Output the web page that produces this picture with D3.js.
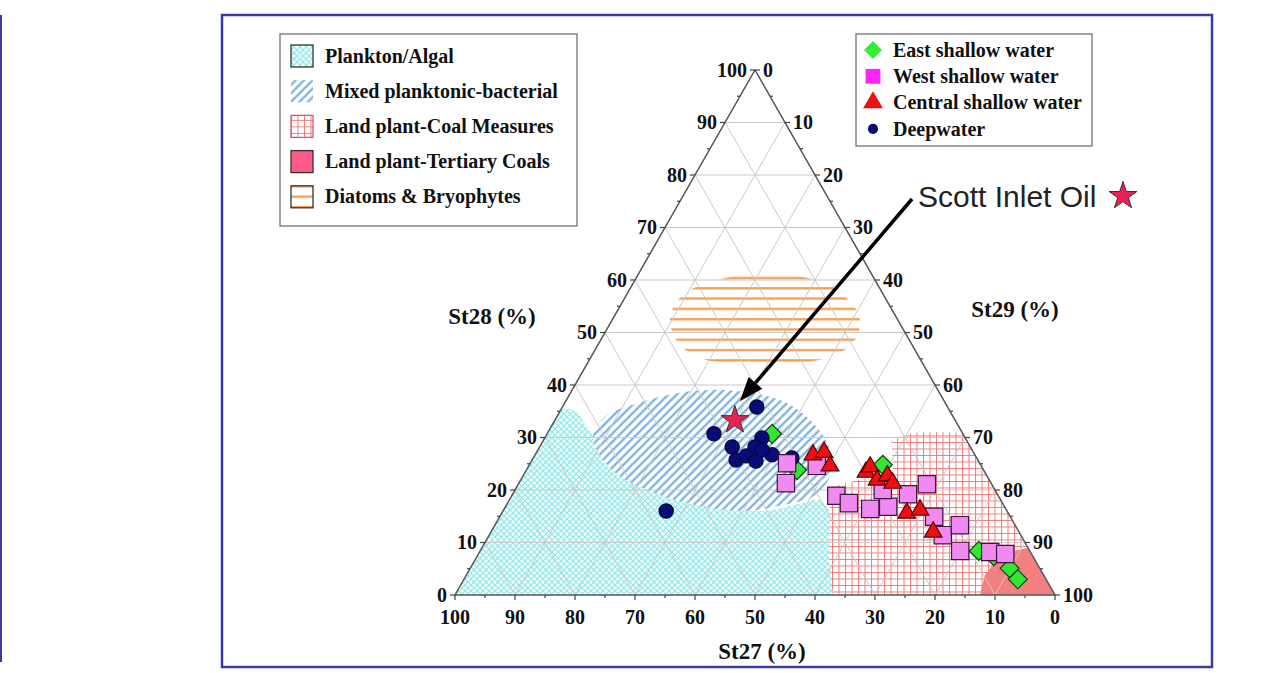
<!DOCTYPE html>
<html>
<head>
<meta charset="utf-8">
<script src="https://cdn.jsdelivr.net/npm/d3@7"></script>
<style>
  body { margin: 0; background: #fff; }
  svg { display: block; }
</style>
</head>
<body>
<svg id="chart" width="1269" height="673"></svg>
<script>

// sterane samples, each row is [St27, St28, St29] in %
var eastShallow = [[31.8,30.7,37.5],[31.1,23.8,45.1],[16.3,24.8,58.9],[8.5,8.4,83.1],
  [6.5,7.4,86.1],[5.0,5.1,89.9],[4.7,3.0,92.3]];

var deepWater = [[31.8,35.8,32.4],[41.5,30.7,27.8],[39.7,28.2,32.1],[33.9,29.9,36.2],
  [35.9,28.2,35.9],[40.3,25.7,34.0],[38.2,26.5,35.3],[37.1,25.5,37.4],[33.8,26.7,39.5],
  [30.8,26.1,43.1],[56.8,16.0,27.2],[35.0,27.6,37.4]];

var westShallow = [[32.1,25.1,42.8],[34.2,21.3,44.5],[27.4,24.6,48.0],[27.0,18.9,54.1],
  [25.6,17.5,56.9],[22.6,16.4,61.0],[19.4,16.8,63.8],[14.9,19.2,65.9],[10.8,21.1,68.1],
  [18.7,20.0,61.3],[12.7,14.9,72.4],[13.0,11.4,75.6],[9.2,13.3,77.5],[11.6,8.4,80.0],
  [6.7,8.2,85.1],[4.4,7.8,87.8]];

var centralShallow = [[27.0,26.7,46.3],[24.9,27.2,47.9],[25.2,24.6,50.2],[19.8,23.4,56.8],
  [18.6,24.4,57.0],[18.7,21.9,59.4],[16.6,22.7,60.7],[16.4,21.3,62.3],[16.9,15.6,67.5],
  [14.4,16.2,69.4],[14.3,12.0,73.7]];

var scottInlet = [36.7,33.3,30.0];

// source fields, outlines as [St28, St29]
var planktonField = [[0,0],[35.2,0],[35,2.5],[32,6],[28.5,10],[18,32],[16,43],[17.5,49],
  [18,52],[14,56],[6.7,60.5],[0,64]];
var mixedField = [[30,8],[34,8],[36,11],[38.5,18],[39,26],[37,36],[33,43],[28.5,48],
  [24,51],[19,50.5],[17,45.5],[16,40.5],[17,32],[20,22],[24,14]];
var coalField = [[20.5,52],[23,59.5],[24,61],[29.5,58],[31,61],[31,69],[0,100],[0,63],
  [6.7,59],[14.3,55.4]];
var tertiaryField = [[0,87.5],[3.8,86.4],[6.3,86.9],[8.2,88.4],[9,91],[0,100]];
var diatomField = [[61,18],[61,25],[59,33],[55,39],[52.4,41.3],[48.6,42.4],[45.7,40.5],
  [44.2,35.4],[44.2,25.4],[44.8,19.3],[47.6,13.7],[52.4,9.6],[56.2,9.1],[59,11.3]];

var fieldLabels = ['Plankton/Algal','Mixed planktonic-bacterial','Land plant-Coal Measures',
  'Land plant-Tertiary Coals','Diatoms & Bryophytes'];
var sampleLabels = ['East shallow water','West shallow water','Central shallow water','Deepwater'];
var majorTicks = d3.range(0, 101, 10);
var minorTicks = d3.range(5, 100, 10);

var serif = '"Liberation Serif", "Times New Roman", serif';
var svg = d3.select('#chart');
var defs = svg.append('defs');

// ternary layout: horizontal position is St29 + St28/2, vertical is St28
var xPos = d3.scaleLinear().domain([0, 100]).range([455, 1055]);
var yPos = d3.scaleLinear().domain([0, 100]).range([595, 70]);

function project(st28, st29){
  return [xPos(st29 + st28 / 2), yPos(st28)];
}
function projectSample(d){
  var s = d[0] + d[1] + d[2];
  return project(d[1] / s * 100, d[2] / s * 100);
}

// outer frame
svg.append('rect')
  .attr('x', 222).attr('y', 15).attr('width', 990).attr('height', 652)
  .attr('fill', '#fff').attr('stroke', '#3a3aa2').attr('stroke-width', 2.5);
svg.append('line')
  .attr('x1', 1).attr('x2', 1).attr('y1', 15).attr('y2', 662)
  .attr('stroke', '#3a3aa2').attr('stroke-width', 2);

// fill patterns
var pCyan = defs.append('pattern').attr('id', 'pCyan')
  .attr('patternUnits', 'userSpaceOnUse').attr('width', 6).attr('height', 6);
pCyan.append('rect').attr('width', 6).attr('height', 6).attr('fill', '#effcfc');
pCyan.append('path').attr('d', 'M0,0L6,6M6,0L0,6')
  .attr('stroke', '#8fe8e8').attr('stroke-width', 1.1);

var pBlue = defs.append('pattern').attr('id', 'pBlue')
  .attr('patternUnits', 'userSpaceOnUse').attr('width', 6).attr('height', 6)
  .attr('patternTransform', 'rotate(45)');
pBlue.append('rect').attr('width', 6).attr('height', 6).attr('fill', '#fff');
pBlue.append('line').attr('x1', 1.5).attr('x2', 1.5).attr('y1', 0).attr('y2', 6)
  .attr('stroke', '#6aa6dc').attr('stroke-width', 2);

var pGrid = defs.append('pattern').attr('id', 'pGrid')
  .attr('patternUnits', 'userSpaceOnUse').attr('width', 6.5).attr('height', 6.5);
pGrid.append('rect').attr('width', 6.5).attr('height', 6.5).attr('fill', '#fff');
pGrid.append('path').attr('d', 'M0,0.5H6.5M0.5,0V6.5')
  .attr('stroke', '#f07c7c').attr('stroke-width', 1);

var pOrange = defs.append('pattern').attr('id', 'pOrange')
  .attr('patternUnits', 'userSpaceOnUse').attr('width', 20).attr('height', 10.3)
  .attr('y', 273);
pOrange.append('line').attr('x1', 0).attr('x2', 20).attr('y1', 5).attr('y2', 5)
  .attr('stroke', '#f39d50').attr('stroke-width', 2.3);

// keep fields inside the triangle
var corners = [project(0, 0), project(0, 100), project(100, 0)];
defs.append('clipPath').attr('id', 'triClip')
  .append('polygon').attr('points', corners.map(function(p){ return p.join(','); }).join(' '));

var fieldLayer = svg.append('g').attr('clip-path', 'url(#triClip)');

function fieldPath(curve){
  return d3.line()
    .x(function(d){ return project(d[0], d[1])[0]; })
    .y(function(d){ return project(d[0], d[1])[1]; })
    .curve(curve);
}

fieldLayer.append('path').attr('d', fieldPath(d3.curveCatmullRomClosed)(planktonField))
  .attr('fill', 'url(#pCyan)');
fieldLayer.append('path').attr('d', fieldPath(d3.curveLinearClosed)(coalField))
  .attr('fill', 'url(#pGrid)');
fieldLayer.append('path').attr('d', fieldPath(d3.curveCatmullRomClosed)(mixedField))
  .attr('fill', 'url(#pBlue)');
fieldLayer.append('path').attr('d', fieldPath(d3.curveLinearClosed)(tertiaryField))
  .attr('fill', '#f38080');
fieldLayer.append('path').attr('d', fieldPath(d3.curveCatmullRomClosed)(diatomField))
  .attr('fill', 'url(#pOrange)');

// grid lines, one family per component
var grid = svg.append('g').attr('stroke', '#c9c9c9').attr('stroke-width', 1);
d3.range(10, 100, 10).forEach(function(v){
  var segs = [
    [project(v, 0), project(v, 100 - v)],
    [project(0, v), project(100 - v, v)],
    [project(0, 100 - v), project(100 - v, 0)]
  ];
  segs.forEach(function(s){
    grid.append('line')
      .attr('x1', s[0][0]).attr('y1', s[0][1])
      .attr('x2', s[1][0]).attr('y2', s[1][1]);
  });
});

// triangle outline
svg.append('polygon')
  .attr('points', corners.map(function(p){ return p.join(','); }).join(' '))
  .attr('fill', 'none').attr('stroke', '#555').attr('stroke-width', 1.5);

// ticks and labels
var axes = svg.append('g').attr('stroke', '#444').attr('stroke-width', 1.2);
var tickText = svg.append('g')
  .style('font-family', serif).style('font-weight', 'bold').style('font-size', '20px')
  .attr('fill', '#111');

majorTicks.concat(minorTicks).forEach(function(t){
  var len = (t % 10 === 0) ? 5 : 3;
  var pl = project(t, 0);            // St28 on the left edge
  var pr = project(100 - t, t);      // St29 on the right edge
  var pb = project(0, 100 - t);      // St27 along the base
  axes.append('line').attr('x1', pl[0]).attr('y1', pl[1]).attr('x2', pl[0] - len).attr('y2', pl[1]);
  axes.append('line').attr('x1', pr[0]).attr('y1', pr[1]).attr('x2', pr[0] + len).attr('y2', pr[1]);
  axes.append('line').attr('x1', pb[0]).attr('y1', pb[1]).attr('x2', pb[0]).attr('y2', pb[1] + len);
  if (t % 10 !== 0) return;
  tickText.append('text').attr('x', pl[0] - 8).attr('y', pl[1]).attr('dy', '0.33em')
    .attr('text-anchor', 'end').text(t);
  tickText.append('text').attr('x', pr[0] + 8).attr('y', pr[1]).attr('dy', '0.33em')
    .attr('text-anchor', 'start').text(t);
  tickText.append('text').attr('x', pb[0]).attr('y', pb[1] + 22).attr('dy', '0.33em')
    .attr('text-anchor', 'middle').text(t);
});

var titles = svg.append('g')
  .style('font-family', serif).style('font-weight', 'bold').style('font-size', '23px')
  .attr('fill', '#111').attr('text-anchor', 'middle');
titles.append('text').attr('x', 492).attr('y', 316).attr('dy', '0.35em').text('St28 (%)');
titles.append('text').attr('x', 1015).attr('y', 309).attr('dy', '0.35em').text('St29 (%)');
titles.append('text').attr('x', 762).attr('y', 651).attr('dy', '0.35em').text('St27 (%)');

// sample markers
var diamond = d3.symbol().type(d3.symbolSquare).size(180);
var square = d3.symbol().type(d3.symbolSquare).size(300);
var triangle = d3.symbol().type(d3.symbolTriangle).size(135);
var circle = d3.symbol().type(d3.symbolCircle).size(160);

function drawSamples(data, sym, fill, stroke, rot){
  svg.append('g').selectAll('path')
    .data(data)
    .enter()
    .append('path')
    .attr('d', sym)
    .attr('transform', function(d){
      var p = projectSample(d);
      return 'translate(' + p[0] + ',' + p[1] + ')' + (rot ? ' rotate(45)' : '');
    })
    .attr('fill', fill)
    .attr('stroke', stroke)
    .attr('stroke-width', 1.2);
}

drawSamples(eastShallow, diamond, '#2fe82f', '#1c3a1c', true);
drawSamples(deepWater, circle, '#0b0b78', '#05053a', false);
drawSamples(westShallow, square, '#f08af0', '#3e1242', false);
drawSamples(centralShallow, triangle, '#ee1010', '#5a0000', false);

// Scott Inlet Oil star and callout
var star = d3.symbol().type(d3.symbolStar).size(240);
var sp = projectSample(scottInlet);
svg.append('path').attr('d', star)
  .attr('transform', 'translate(' + sp[0] + ',' + sp[1] + ')')
  .attr('fill', '#ec2152').attr('stroke', '#333').attr('stroke-width', 1);

var tip = [sp[0] + 5, sp[1] - 19];
var tail = [912, 199];
var ang = Math.atan2(tip[1] - tail[1], tip[0] - tail[0]);
var headLen = 24, headW = 9;
var base = [tip[0] - headLen * Math.cos(ang), tip[1] - headLen * Math.sin(ang)];
svg.append('line')
  .attr('x1', tail[0]).attr('y1', tail[1]).attr('x2', base[0]).attr('y2', base[1])
  .attr('stroke', '#000').attr('stroke-width', 3.5);
svg.append('polygon')
  .attr('points', [
    tip,
    [base[0] + headW * Math.sin(ang), base[1] - headW * Math.cos(ang)],
    [base[0] - headW * Math.sin(ang), base[1] + headW * Math.cos(ang)]
  ].map(function(p){ return p.join(','); }).join(' '))
  .attr('fill', '#000');

svg.append('text')
  .attr('x', 918).attr('y', 207)
  .style('font-family', '"Liberation Sans", Arial, sans-serif')
  .style('font-size', '30px').attr('fill', '#222')
  .text('Scott Inlet Oil');
svg.append('path').attr('d', star)
  .attr('transform', 'translate(1123,196)')
  .attr('fill', '#ec2152').attr('stroke', '#333').attr('stroke-width', 1);

// legend for the source fields
var leg1 = svg.append('g');
leg1.append('rect').attr('x', 280).attr('y', 34).attr('width', 297).attr('height', 192)
  .attr('fill', '#fff').attr('stroke', '#666').attr('stroke-width', 1.2);
var swatchFill = ['url(#pCyan)', 'url(#pBlue)', 'url(#pGrid)', '#ff5a8a', 'url(#pOrange)'];
var swatchStroke = ['#333', 'none', '#d05a7a', '#333', '#333'];
var leg1Rows = leg1.selectAll('g.row')
  .data(fieldLabels)
  .enter()
  .append('g')
  .attr('transform', function(d, i){ return 'translate(291,' + (56 + i * 35.2) + ')'; });
leg1Rows.append('rect')
  .attr('x', 0).attr('y', -11).attr('width', 22).attr('height', 22)
  .attr('fill', function(d, i){ return swatchFill[i]; })
  .attr('stroke', function(d, i){ return swatchStroke[i]; })
  .attr('stroke-width', 1.3);
leg1Rows.append('text')
  .attr('x', 34).attr('dy', '0.33em')
  .style('font-family', serif).style('font-weight', 'bold').style('font-size', '20px')
  .attr('fill', '#111')
  .text(function(d){ return d; });

// legend for the samples
var leg2 = svg.append('g');
leg2.append('rect').attr('x', 856).attr('y', 34).attr('width', 236).attr('height', 112)
  .attr('fill', '#fff').attr('stroke', '#666').attr('stroke-width', 1.2);
var legSyms = [
  d3.symbol().type(d3.symbolSquare).size(160),
  d3.symbol().type(d3.symbolSquare).size(220),
  d3.symbol().type(d3.symbolTriangle).size(170),
  d3.symbol().type(d3.symbolCircle).size(80)
];
var legColors = ['#33ee33', '#ff22ff', '#ee1111', '#0b0b78'];
var leg2Rows = leg2.selectAll('g.row')
  .data(sampleLabels)
  .enter()
  .append('g')
  .attr('transform', function(d, i){ return 'translate(873,' + (50 + i * 26.3) + ')'; });
leg2Rows.append('path')
  .attr('d', function(d, i){ return legSyms[i](); })
  .attr('transform', function(d, i){ return i === 0 ? 'rotate(45)' : ''; })
  .attr('fill', function(d, i){ return legColors[i]; });
leg2Rows.append('text')
  .attr('x', 20).attr('dy', '0.33em')
  .style('font-family', serif).style('font-weight', 'bold').style('font-size', '20px')
  .attr('fill', '#111')
  .text(function(d){ return d; });

</script>
</body>
</html>
